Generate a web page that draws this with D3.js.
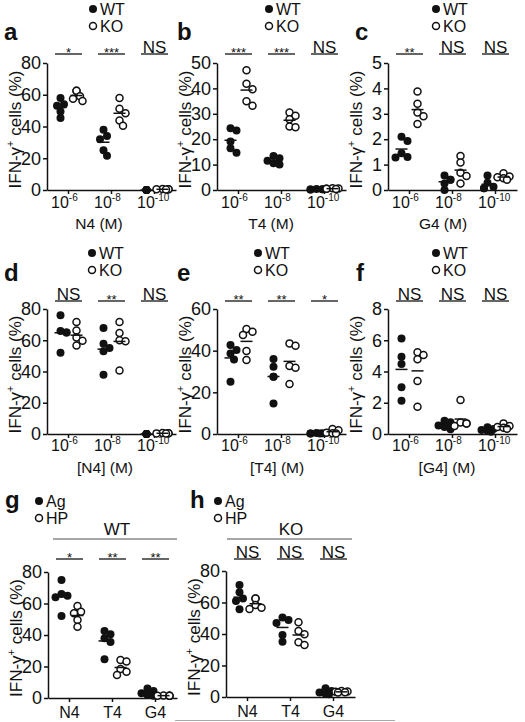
<!DOCTYPE html>
<html><head><meta charset="utf-8">
<script src="https://cdn.jsdelivr.net/npm/d3@7/dist/d3.min.js"></script>
<style>
body{margin:0;background:#fff}
svg{display:block}
text{font-family:"Liberation Sans",Arial,Helvetica,sans-serif;fill:#111}
</style>
</head><body>
<svg id="chart" width="525" height="722"></svg>
<script>
// ---------------- DATA ----------------
const concExp = ["-6", "-8", "-10"];        // 10^x (M)
const peptides = ["N4", "T4", "G4"];

// Panel a (N4), % IFN-γ+ cells, per concentration
const aWT = [[58, 54, 53, 49.5, 45.3], [38, 34, 32, 21.5, 25], [0, 0, 0, 0, 0]];
const aKO = [[62.5, 62.5, 57.5, 56, 59], [57.9, 51.2, 48.4, 43.8, 40.4], [0.3, 0.5, 0.6, 0.4, 0.5]];
const aSig = ["*", "***", "NS"];
// Panel b (T4)
const bWT = [[24.3, 23.4, 19.1, 16.4, 14.7], [13.4, 12.5, 11.5, 10.5, 10], [0.3, 0.2, 0.4, 0.3, 0.2]];
const bKO = [[47.1, 41.8, 39.7, 34.9, 33.2], [30.5, 29.2, 27.9, 24.7, 25], [0.6, 0.5, 0.4, 0.7, 0.5]];
const bSig = ["***", "***", "NS"];
// Panel c (G4)
const cWT = [[2.1, 1.93, 1.45, 1.3, 1.28], [0.57, 0.4, 0.4, 0.26, 0], [0.57, 0.29, 0.13, 0.07, 0.07]];
const cKO = [[3.88, 3.4, 3.05, 2.9, 2.6], [1.34, 1.08, 0.68, 0.55, 0.26], [0.66, 0.53, 0.46, 0.5, 0.4]];
const cSig = ["**", "NS", "NS"];
// Panel d ([N4])
const dWT = [[76, 66, 65, 65, 52], [67.8, 57.8, 55, 53, 37.9], [0, 0, 0, 0, 0]];
const dKO = [[71.7, 66.3, 61.8, 59.7, 56.7], [71.7, 64.6, 60, 59.3, 40.6], [0.5, 0.4, 0.6, 0.5, 0.3]];
const dSig = ["NS", "**", "NS"];
// Panel e ([T4])
const eWT = [[42.7, 40.3, 38.7, 35.8, 25.1], [36, 32.3, 27.5, 27.5, 14.7], [0.5, 0.3, 0.2, 0.4, 0.3]];
const eKO = [[50.4, 49.1, 47.5, 39.8, 35.5], [43.5, 42.4, 32.6, 31.8, 24], [2.4, 1.8, 0.3, 0.4, 0.6]];
const eSig = ["**", "**", "*"];
// Panel f ([G4])
const fWT = [[6.12, 4.95, 4.48, 2.99, 2.13], [0.85, 0.75, 0.55, 0.45, 0.3], [0.43, 0.32, 0.26, 0.21, 0.15]];
const fKO = [[5.23, 5.05, 4.78, 3.39, 1.75], [2.18, 0.73, 0.68, 0.68, 0.51], [0.68, 0.51, 0.4, 0.34, 0.45]];
const fSig = ["NS", "NS", "NS"];
// Panel g (WT: Ag vs HP)
const gAg = [[75, 66, 65, 64, 52], [42.5, 40.5, 38, 35.5, 24.6], [6.1, 4.4, 3, 1.9, 1.5]];
const gHP = [[58.4, 54.8, 53.8, 49.5, 45.3], [24.1, 23.1, 18.4, 16.7, 14.6], [1.5, 1.5, 1.6, 1.4, 1.5]];
const gSig = ["*", "**", "**"];
// Panel h (KO: Ag vs HP)
const hAg = [[71.1, 66.5, 62.6, 61, 55.7], [50.4, 48.9, 47, 39.4, 35.1], [5.5, 3.8, 2.8, 2.1, 1.7]];
const hHP = [[62.6, 62.6, 58.4, 56.7, 55.9], [47.4, 41.9, 39.8, 34.7, 33], [3.8, 2.8, 3.3, 3.5, 3]];
const hSig = ["NS", "NS", "NS"];

// ---------------- LAYOUT ----------------
const svg = d3.select("#chart");
const INK = "#111";

const panels = [
  {id:"a", filled:aWT, open:aKO, sig:aSig, max:80, step:20, A:47, top:63, bot:190, sigY:54, lx:4, ly:40, legX:93, legY:9, names:["WT","KO"], cats:concExp, xTitle:"N4 (M)", xtX:99, xtY:229, tickDy:18},
  {id:"b", filled:bWT, open:bKO, sig:bSig, max:50, step:10, A:217, top:63, bot:190, sigY:54, lx:177, ly:40, legX:269, legY:9, names:["WT","KO"], cats:concExp, xTitle:"T4 (M)", xtX:271, xtY:229, tickDy:18},
  {id:"c", filled:cWT, open:cKO, sig:cSig, max:5, step:1, A:388, top:63, bot:190, sigY:54, lx:355, ly:40, legX:436, legY:9, names:["WT","KO"], cats:concExp, xTitle:"G4 (M)", xtX:443, xtY:229, tickDy:18},
  {id:"d", filled:dWT, open:dKO, sig:dSig, max:80, step:20, A:47, top:309, bot:434, sigY:301, lx:4, ly:281, legX:92, legY:253, names:["WT","KO"], cats:concExp, xTitle:"[N4] (M)", xtX:105, xtY:473, tickDy:17},
  {id:"e", filled:eWT, open:eKO, sig:eSig, max:60, step:20, A:217, top:309, bot:434, sigY:301, lx:177, ly:281, legX:258, legY:253, names:["WT","KO"], cats:concExp, xTitle:"[T4] (M)", xtX:277, xtY:473, tickDy:17},
  {id:"f", filled:fWT, open:fKO, sig:fSig, max:8, step:2, A:388, top:309, bot:434, sigY:301, lx:356, ly:281, legX:436, legY:253, names:["WT","KO"], cats:concExp, xTitle:"[G4] (M)", xtX:447, xtY:473, tickDy:17},
  {id:"g", filled:gAg, open:gHP, sig:gSig, max:80, step:20, A:48, top:572, bot:698, sigY:559, lx:5, ly:508, legX:39, legY:501, names:["Ag","HP"], cats:peptides, group:"WT", gX:117, gLine:[53,177], tickDy:20},
  {id:"h", filled:hAg, open:hHP, sig:hSig, max:80, step:20, A:226, top:571, bot:697, sigY:559, lx:190, ly:508, legX:218, legY:501, names:["Ag","HP"], cats:peptides, group:"KO", gX:291, gLine:[227,352], tickDy:20}
];

const R = 4;
// simple dodge so that overlapping dots spread a little horizontally
function dodge(vals, cx, y) {
  const placed = [];
  const cands = [0, 3.5, -3.5, 6, -6];
  vals.map((v, i) => ({v, i})).sort((p, q) => q.v - p.v).forEach(o => {
    const py = y(o.v);
    let best = 0, bestD = -1;
    for (const c of cands) {
      const px = cx + c;
      let md = Infinity;
      placed.forEach(q => { if (Math.abs(q.v - o.v) > 1e-9) md = Math.min(md, Math.hypot(q.x - px, q.y - py)); });
      if (md >= 2 * R * 0.8) { best = c; break; }
      if (md > bestD) { bestD = md; best = c; }
    }
    placed.push({x: cx + best, y: py, v: o.v});
  });
  return placed;
}

panels.forEach(p => {
  const g = svg.append("g");
  const x = d3.scaleBand().domain(p.cats).range([p.A, p.A + 129]);
  const y = d3.scaleLinear().domain([0, p.max]).range([p.bot, p.top]);

  // y axis
  const ya = g.append("g").attr("transform", `translate(${p.A},0)`)
    .call(d3.axisLeft(y).tickValues(d3.range(0, p.max + 1e-9, p.step))
      .tickFormat(d3.format("d")).tickSize(4).tickSizeOuter(0).tickPadding(2));
  ya.select(".domain").attr("stroke", INK).attr("stroke-width", 1.5);
  ya.selectAll(".tick line").attr("stroke", INK).attr("stroke-width", 1.5);
  ya.selectAll(".tick text").attr("font-size", 18).attr("fill", INK).attr("font-family", null);

  // x axis
  const xa = g.append("g").attr("transform", `translate(0,${p.bot})`)
    .call(d3.axisBottom(x).tickSize(4).tickSizeOuter(0).tickFormat(""));
  xa.select(".domain").attr("stroke", INK).attr("stroke-width", 1.5);
  xa.selectAll(".tick line").attr("stroke", INK).attr("stroke-width", 1.5);

  // x tick labels
  p.cats.forEach(c => {
    const cx = x(c) + x.bandwidth() / 2;
    if (p.cats === concExp) {
      const t = g.append("text").attr("x", cx - 17.5).attr("y", p.bot + p.tickDy).attr("font-size", 16);
      t.append("tspan").text("10");
      t.append("tspan").attr("font-size", 10).attr("dy", -7).text(c);
    } else {
      g.append("text").attr("x", cx).attr("y", p.bot + p.tickDy).attr("font-size", 16)
        .attr("text-anchor", "middle").text(c);
    }
  });

  // x title
  if (p.xTitle) g.append("text").attr("x", p.xtX).attr("y", p.xtY).attr("font-size", 15.5)
    .attr("text-anchor", "middle").text(p.xTitle);

  // y title
  const yt = g.append("text")
    .attr("transform", `translate(${p.A - 26},${(p.top + p.bot) / 2 + 3}) rotate(-90)`)
    .attr("text-anchor", "middle").attr("font-size", 17);
  yt.append("tspan").text("IFN-γ");
  yt.append("tspan").attr("font-size", 11).attr("dy", -7).text("+");
  yt.append("tspan").attr("dy", 7).text(" cells (%)");

  // points and means
  p.cats.forEach((c, i) => {
    const cx = x(c) + x.bandwidth() / 2;
    const fc = cx - 8, oc = cx + 8;
    g.selectAll(null).data(dodge(p.filled[i], fc, y)).enter().append("circle")
      .attr("cx", d => d.x).attr("cy", d => d.y).attr("r", R).attr("fill", INK);
    g.selectAll(null).data(dodge(p.open[i], oc, y)).enter().append("circle")
      .attr("cx", d => d.x).attr("cy", d => d.y).attr("r", 3.5)
      .attr("fill", "#fff").attr("stroke", INK).attr("stroke-width", 1.5);
    [[p.filled[i], fc], [p.open[i], oc]].forEach(([vals, mx]) => {
      const m = y(d3.mean(vals));
      g.append("line").attr("x1", mx - 6).attr("x2", mx + 6).attr("y1", m).attr("y2", m)
        .attr("stroke", INK).attr("stroke-width", 1.5);
    });

    // significance
    g.append("line").attr("x1", cx - 13.5).attr("x2", cx + 13.5).attr("y1", p.sigY).attr("y2", p.sigY)
      .attr("stroke", "#333").attr("stroke-width", 1.5);
    const s = p.sig[i];
    if (s === "NS") {
      g.append("text").attr("x", cx).attr("y", p.sigY - 1.5).attr("font-size", 17)
        .attr("text-anchor", "middle").text(s);
    } else {
      g.append("text").attr("x", cx).attr("y", p.sigY + 3).attr("font-size", 13)
        .attr("text-anchor", "middle").text(s);
    }
  });

  // panel letter
  g.append("text").attr("x", p.lx).attr("y", p.ly).attr("font-size", 24).attr("font-weight", "bold").text(p.id);

  // legend
  g.append("circle").attr("cx", p.legX).attr("cy", p.legY).attr("r", R).attr("fill", INK);
  g.append("circle").attr("cx", p.legX).attr("cy", p.legY + 17).attr("r", 3.5).attr("fill", "#fff")
    .attr("stroke", INK).attr("stroke-width", 1.5);
  g.append("text").attr("x", p.legX + 7).attr("y", p.legY + 6).attr("font-size", 16).text(p.names[0]);
  g.append("text").attr("x", p.legX + 7).attr("y", p.legY + 23).attr("font-size", 16).text(p.names[1]);

  // group header (g, h)
  if (p.group) {
    g.append("text").attr("x", p.gX).attr("y", 535).attr("font-size", 17).attr("text-anchor", "middle").text(p.group);
    g.append("line").attr("x1", p.gLine[0]).attr("x2", p.gLine[1]).attr("y1", 539).attr("y2", 539)
      .attr("stroke", "#888").attr("stroke-width", 1.5);
  }
});

// faint bottom rule seen in the figure
svg.append("line").attr("x1", 175).attr("x2", 395).attr("y1", 720.5).attr("y2", 720.5)
  .attr("stroke", "#aaa").attr("stroke-width", 1);
</script>
</body></html>
